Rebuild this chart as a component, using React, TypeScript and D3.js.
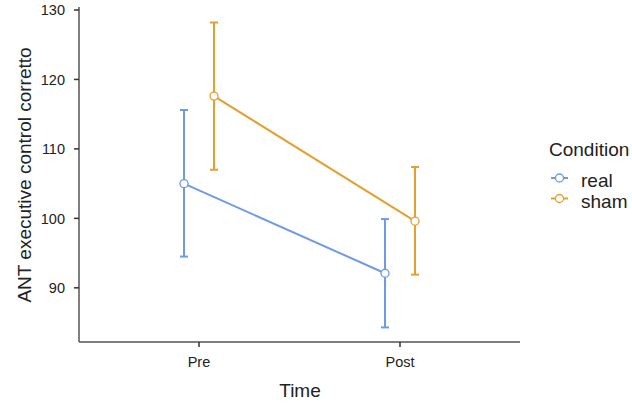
import React from "react";
import * as d3 from "d3";

const times = ["Pre", "Post"];
const conditions = ["real", "sham"];
const colors = ["#6f9ae6", "#e3a02e"];
const realMean = [105.0, 92.1];
const realLow = [94.5, 84.3];
const realHigh = [115.6, 99.9];
const shamMean = [117.6, 99.6];
const shamLow = [107.0, 91.9];
const shamHigh = [128.2, 107.4];
const yTicks = [90, 100, 110, 120, 130];

const series = [
  { name: conditions[0], color: colors[0], mean: realMean, low: realLow, high: realHigh, dodge: -15 },
  { name: conditions[1], color: colors[1], mean: shamMean, low: shamLow, high: shamHigh, dodge: 15 },
];

export default function App() {
  const W = 632, H = 404;
  const left = 79, right = 520, top = 7, bottom = 342;
  const x = d3.scalePoint<string>().domain(times).range([199, 400]);
  const y = d3.scaleLinear().domain([82.2, 130.43]).range([bottom, top]);
  const font = "'Liberation Sans', Arial, Helvetica, sans-serif";
  const line = d3.line<number>();
  return (
    <svg width={W} height={H} style={{ position: "absolute", left: 0, top: 0 }} fontFamily={font}>
      <rect width={W} height={H} fill="#fff" />
      {/* axes */}
      <line x1={left} x2={left} y1={top} y2={bottom} stroke="#555" strokeWidth={1.5} />
      <line x1={left} x2={right} y1={bottom} y2={bottom} stroke="#555" strokeWidth={1.5} />
      {yTicks.map((t) => (
        <g key={t}>
          <line x1={left - 5} x2={left} y1={y(t)} y2={y(t)} stroke="#333" strokeWidth={1.5} />
          <text x={65} y={y(t)} dy="0.36em" textAnchor="end" fontSize={14.5} fill="#222">{t}</text>
        </g>
      ))}
      {times.map((t) => (
        <g key={t}>
          <line x1={x(t)!} x2={x(t)!} y1={bottom} y2={bottom + 5} stroke="#333" strokeWidth={1.5} />
          <text x={x(t)!} y={367} textAnchor="middle" fontSize={14.5} fill="#222">{t}</text>
        </g>
      ))}
      <text x={300} y={397} textAnchor="middle" fontSize={19} fill="#222">Time</text>
      <text transform={`translate(31,175) rotate(-90)`} textAnchor="middle" fontSize={19} fill="#222">
        ANT executive control corretto
      </text>
      {/* series */}
      {series.map((s) => {
        const pts = times.map((t, i) => [x(t)! + s.dodge, y(s.mean[i])] as [number, number]);
        return (
          <g key={s.name}>
            {times.map((t, i) => {
              const cx = x(t)! + s.dodge;
              return (
                <g key={t} stroke={s.color} strokeWidth={2}>
                  <line x1={cx} x2={cx} y1={y(s.low[i])} y2={y(s.high[i])} />
                  <line x1={cx - 4} x2={cx + 4} y1={y(s.low[i])} y2={y(s.low[i])} />
                  <line x1={cx - 4} x2={cx + 4} y1={y(s.high[i])} y2={y(s.high[i])} />
                </g>
              );
            })}
            <path d={line(pts as any) || ""} fill="none" stroke={s.color} strokeWidth={2} />
            {pts.map((p, i) => (
              <circle key={i} cx={p[0]} cy={p[1]} r={4} fill="#fff" stroke={s.color} strokeWidth={1.3} />
            ))}
          </g>
        );
      })}
      {/* legend */}
      <text x={549} y={156} fontSize={19} fill="#222">Condition</text>
      {series.map((s, i) => {
        const ly = 178 + i * 20.5;
        return (
          <g key={s.name}>
            <line x1={551} x2={568} y1={ly} y2={ly} stroke={s.color} strokeWidth={2} />
            <circle cx={559.5} cy={ly} r={4} fill="#fff" stroke={s.color} strokeWidth={1.3} />
            <text x={581} y={ly + 9} fontSize={19} fill="#222">{s.name}</text>
          </g>
        );
      })}
    </svg>
  );
}
